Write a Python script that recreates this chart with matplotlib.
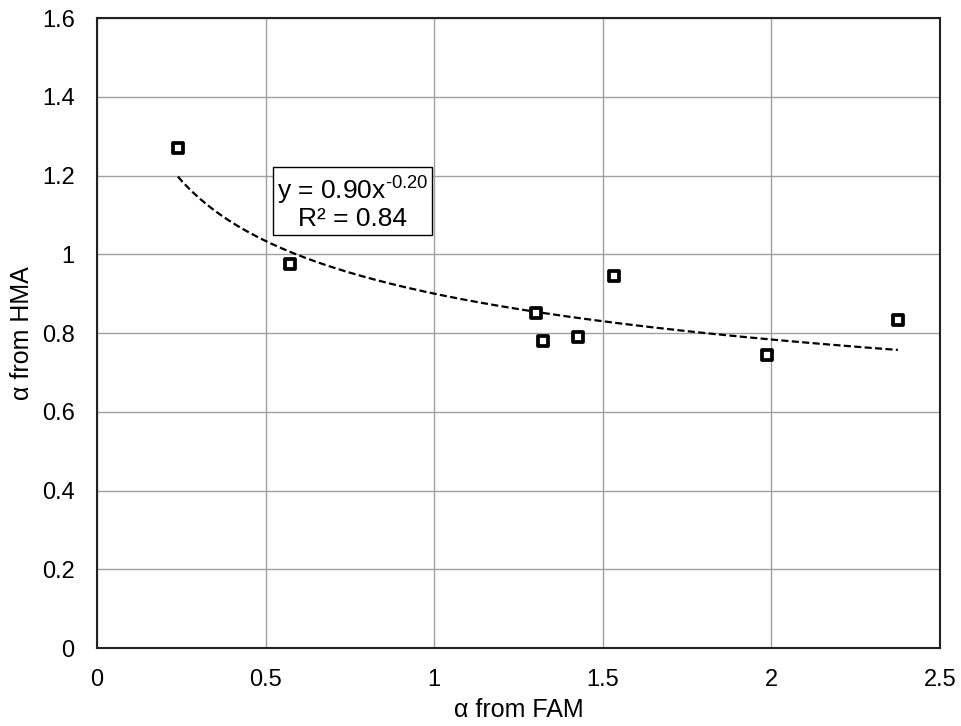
import matplotlib
matplotlib.use("Agg")
import matplotlib.pyplot as plt
import numpy as np

plt.rcParams['font.family'] = ['Liberation Sans', 'DejaVu Sans']

fam = [0.240, 0.572, 1.302, 1.323, 1.426, 1.533, 1.987, 2.375]
hma = [1.270, 0.975, 0.851, 0.780, 0.790, 0.945, 0.744, 0.833]
coef_a = 0.90
coef_b = -0.20
r2 = 0.84
xticks = [0, 0.5, 1, 1.5, 2, 2.5]
xticklabels = ['0', '0.5', '1', '1.5', '2', '2.5']
yticks = [0, 0.2, 0.4, 0.6, 0.8, 1.0, 1.2, 1.4, 1.6]
yticklabels = ['0', '0.2', '0.4', '0.6', '0.8', '1', '1.2', '1.4', '1.6']

fig = plt.figure(figsize=(9.62, 7.26), dpi=100)
ax = fig.add_axes([0.1008, 0.1074, 0.8763, 0.8678])

ax.set_xlim(0, 2.5)
ax.set_ylim(0, 1.6)
ax.set_xticks(xticks)
ax.set_xticklabels(xticklabels)
ax.set_yticks(yticks)
ax.set_yticklabels(yticklabels)
ax.grid(True, color='#a0a0a0', linewidth=1.0)
ax.set_axisbelow(True)
ax.tick_params(length=0, labelsize=17)
ax.tick_params(axis='x', pad=15)
ax.tick_params(axis='y', pad=16)
for s in ax.spines.values():
    s.set_color('#222222')
    s.set_linewidth(1.5)

xs = np.linspace(min(fam), max(fam), 200)
ax.plot(xs, coef_a * xs ** coef_b, color='black', linestyle=(0, (3.2, 1.5)), linewidth=1.6, zorder=3)

ax.scatter(fam, hma, marker='s', s=62, facecolors='white', edgecolors='black', linewidths=2.7, zorder=4)

label = 'y = %.2fx$^{\\mathregular{\u2010%.2f}}$\nR² = %.2f' % (coef_a, -coef_b, r2)
ax.text(0.758, 1.133, label, fontsize=19, ha='center', va='center',
        linespacing=1.05,
        bbox=dict(boxstyle='square,pad=0.15', facecolor='white', edgecolor='black', linewidth=1.0), zorder=5)

ax.set_xlabel('α from FAM', fontsize=18, labelpad=5.5)
ax.set_ylabel('α from HMA', fontsize=18, labelpad=6)

fig.savefig('out.png', dpi=100)
